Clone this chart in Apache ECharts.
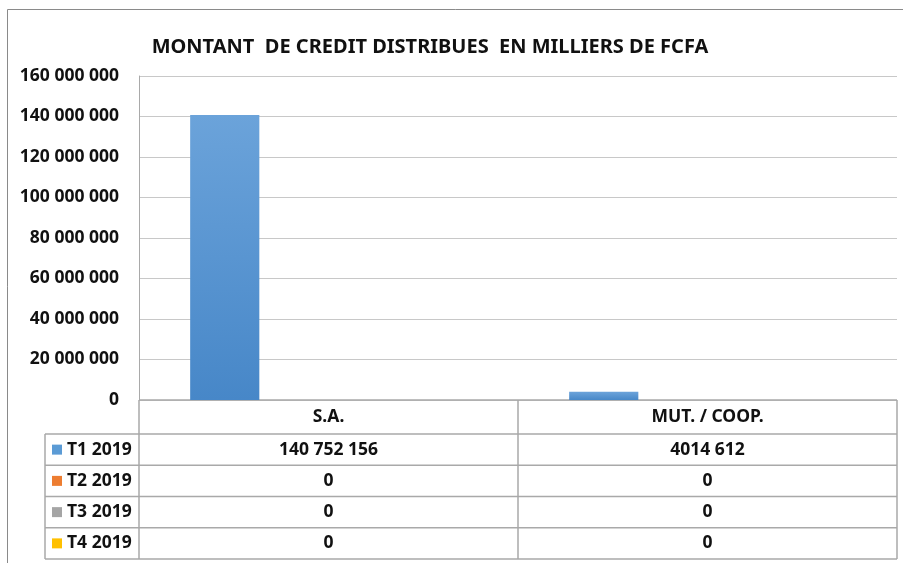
<!DOCTYPE html>
<html>
<head>
<meta charset="utf-8">
<script src="https://cdn.jsdelivr.net/npm/echarts@6/dist/echarts.min.js"></script>
<style>
html,body{margin:0;padding:0;background:#fff;}
#main{width:903px;height:563px;}
</style>
</head>
<body>
<div id="main"></div>
<script>
var categories = ['S.A.', 'MUT. / COOP.'];
var seriesNames = ['T1 2019', 'T2 2019', 'T3 2019', 'T4 2019'];
var t1 = [140752156, 4014612];
var t2 = [0, 0];
var t3 = [0, 0];
var t4 = [0, 0];
var yTicks = [0, 20000000, 40000000, 60000000, 80000000, 100000000, 120000000, 140000000, 160000000];
var colors = ['#5b9bd5', '#ed7d31', '#a5a5a5', '#ffc000'];

var FONT = 'Noto Sans';
var lineColor = '#a9a9a9';

function fmt(v) {
  // format "140 752 156"
  var s = String(v);
  return s.replace(/\B(?=(\d{3})+(?!\d))/g, ' ');
}
function fmtTable(v) {
  // the table shows MUT value as "4014 612"
  var s = fmt(v);
  if (v >= 1000000 && v < 10000000) s = s.replace(' ', '');
  return s;
}

var allData = [t1, t2, t3, t4];
var myChart = echarts.init(document.getElementById('main'));

var gridLeft = 139, gridTop = 76, gridRight = 6, gridBottom = 163;
var series = [];
for (var i = 0; i < seriesNames.length; i++) {
  series.push({
    name: seriesNames[i],
    type: 'bar',
    data: allData[i],
    barGap: '0%',
    barCategoryGap: '27%',
    itemStyle: i === 0 ? {
      color: new echarts.graphic.LinearGradient(0, 0, 0, 1, [
        {offset: 0, color: '#6ba3da'},
        {offset: 1, color: '#4787c8'}
      ])
    } : {color: colors[i]}
  });
}

var option = {
  animation: false,
  title: {
    text: 'MONTANT  DE CREDIT DISTRIBUES  EN MILLIERS DE FCFA',
    left: 425,
    textAlign: 'center',
    top: 32,
    textStyle: {fontFamily: FONT, fontWeight: 'bold', fontSize: 20, color: '#111'}
  },
  grid: {left: gridLeft, top: gridTop, right: gridRight, bottom: gridBottom, containLabel: false},
  xAxis: {
    type: 'category',
    data: categories,
    axisLine: {show: false},
    axisTick: {show: false},
    axisLabel: {show: false}
  },
  yAxis: {
    type: 'value',
    min: 0,
    max: yTicks[yTicks.length - 1],
    interval: yTicks[1] - yTicks[0],
    axisLine: {show: true, lineStyle: {color: lineColor}},
    axisTick: {show: false},
    axisLabel: {
      fontFamily: FONT, fontWeight: 'bold', fontSize: 17.5, color: '#111', margin: 20,
      formatter: function (v) { return fmt(v); }
    },
    splitLine: {lineStyle: {color: '#c8c8c8'}}
  },
  series: series
};
myChart.setOption(option);

// data table below the plot
var tableTop = 563 - gridBottom;
var headerH = 34;
var rowH = 31.25;
var legendLeft = 45;
var plotLeft = gridLeft;
var plotRight = 903 - gridRight;
var catCenters = categories.map(function (c) {
  return myChart.convertToPixel({xAxisIndex: 0}, c);
});
var catHalf = (catCenters[1] - catCenters[0]) / 2;
var g = [];
// outer chart border
g.push({type: 'rect', shape: {x: 7.5, y: 9.5, width: 920, height: 600},
  style: {fill: null, stroke: '#8a8a8a', lineWidth: 1}, z: -1});
function hline(x1, x2, y) {
  g.push({type: 'line', shape: {x1: x1, y1: y, x2: x2, y2: y}, style: {stroke: lineColor, lineWidth: 1.5}});
}
function vline(x, y1, y2) {
  g.push({type: 'line', shape: {x1: x, y1: y1, x2: x, y2: y2}, style: {stroke: lineColor, lineWidth: 1.5}});
}
var tableBottom = tableTop + headerH + rowH * seriesNames.length;
hline(plotLeft, plotRight, tableTop);
for (var r = 0; r <= seriesNames.length; r++) {
  hline(legendLeft, plotRight, tableTop + headerH + rowH * r);
}
vline(plotLeft, tableTop, tableBottom);
vline(legendLeft, tableTop + headerH, tableBottom);
vline(plotRight, tableTop, tableBottom);
for (var c = 1; c < categories.length; c++) {
  vline(catCenters[c] - catHalf, tableTop, tableBottom);
}
var txt = {fontFamily: FONT, fontWeight: 'bold', fontSize: 17.5, fill: '#111', align: 'center', verticalAlign: 'middle'};
categories.forEach(function (cat, ci) {
  g.push({type: 'text', x: catCenters[ci], y: tableTop + headerH / 2,
    style: Object.assign({text: cat}, txt)});
});
seriesNames.forEach(function (name, si) {
  var cy = tableTop + headerH + rowH * si + rowH / 2;
  g.push({type: 'rect', shape: {x: 52, y: cy - 5, width: 10, height: 10}, style: {fill: colors[si]}});
  g.push({type: 'text', x: 67, y: cy,
    style: Object.assign({}, txt, {text: name, align: 'left'})});
  categories.forEach(function (cat, ci) {
    g.push({type: 'text', x: catCenters[ci], y: cy,
      style: Object.assign({}, txt, {text: fmtTable(allData[si][ci])})});
  });
});
myChart.setOption({graphic: g});
</script>
</body>
</html>
